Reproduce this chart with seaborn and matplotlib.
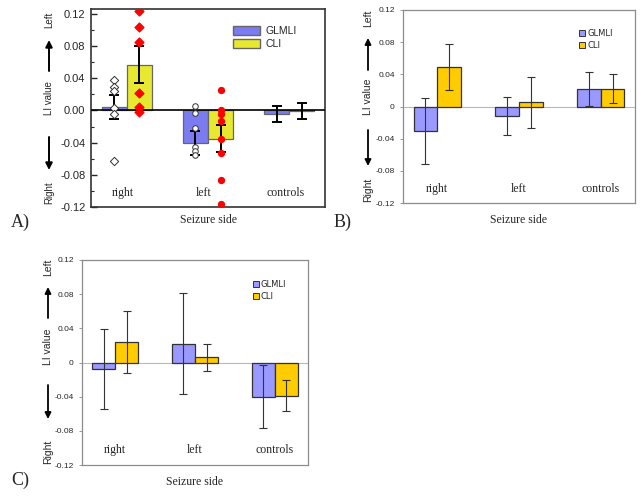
import matplotlib
matplotlib.use("Agg")
import pandas as pd
import matplotlib.pyplot as plt
import seaborn as sns
from matplotlib.patches import Patch
from matplotlib.lines import Line2D

sides = ["right", "left", "controls"]
methods = ["GLMLI", "CLI"]

# panel A: means, errors and individual subjects
a_glmli = [0.004, -0.041, -0.004]
a_glmli_err = [0.015, 0.015, 0.010]
a_cli = [0.057, -0.035, -0.001]
a_cli_err = [0.023, 0.017, 0.010]
a_right_glmli_pts = [0.038, 0.029, 0.024, 0.003, -0.005, -0.063]
a_right_cli_pts = [0.124, 0.104, 0.085, 0.022, 0.004, -0.002]
a_left_glmli_pts = [0.006, -0.003, -0.022, -0.045, -0.050, -0.055]
a_left_cli_pts = [0.025, 0.001, -0.004, -0.013, -0.036, -0.053, -0.087, -0.116]

# panel B
b_glmli = [-0.031, -0.012, 0.022]
b_glmli_err = [0.041, 0.024, 0.021]
b_cli = [0.049, 0.005, 0.022]
b_cli_err = [0.029, 0.032, 0.018]

# panel C
c_glmli = [-0.008, 0.022, -0.040]
c_glmli_err = [0.047, 0.059, 0.037]
c_cli = [0.024, 0.006, -0.039]
c_cli_err = [0.036, 0.016, 0.018]

W, H = 642, 496
sns.set_style("white")
plt.rcParams["font.family"] = ["Liberation Sans", "DejaVu Sans"]
SERIF = "Liberation Serif"

fig = plt.figure(figsize=(W / 100, H / 100), dpi=100)


def box(x0, y0, x1, y1):
    # pixel box -> figure fraction rect
    return [x0 / W, 1 - y1 / H, (x1 - x0) / W, (y1 - y0) / H]


def fx(x):
    return x / W


def fy(y):
    return 1 - y / H


def make_df(glmli, cli):
    return pd.DataFrame({
        "side": sides * 2,
        "method": ["GLMLI"] * 3 + ["CLI"] * 3,
        "value": glmli + cli,
    })


def side_label(ax, x, y_top, y_mid, y_bot, up, down, fs_lr, fs_li, lw, ms):
    fig.text(fx(x), fy(y_top), "Left", rotation=90, ha="center", va="center", fontsize=fs_lr)
    fig.text(fx(x), fy(y_mid), "LI value", rotation=90, ha="center", va="center", fontsize=fs_li)
    fig.text(fx(x), fy(y_bot), "Right", rotation=90, ha="center", va="center", fontsize=fs_lr)
    for (ya, yb) in (up, down):
        ax.annotate("", xy=(fx(x), fy(yb)), xytext=(fx(x), fy(ya)),
                    xycoords="figure fraction", textcoords="figure fraction",
                    arrowprops=dict(arrowstyle="-|>", color="black", lw=lw,
                                    mutation_scale=ms, shrinkA=0, shrinkB=0))


def bars(ax, glmli, glmli_err, cli, cli_err, palette, width, edge, elw, ecol, cap):
    sns.barplot(data=make_df(glmli, cli), x="side", y="value", hue="method",
                order=sides, hue_order=methods, palette=palette, width=width,
                errorbar=None, saturation=1, edgecolor=edge, linewidth=0.9,
                legend=False, ax=ax, zorder=2)
    centers = [[b.get_x() + b.get_width() / 2 for b in cont] for cont in ax.containers]
    for xs, vals, errs in zip(centers, [glmli, cli], [glmli_err, cli_err]):
        ax.errorbar(xs, vals, yerr=errs, fmt="none", ecolor=ecol, elinewidth=elw,
                    capsize=cap, capthick=elw, zorder=4)
    return centers


# ---------------- panel A ----------------
axA = fig.add_axes(box(91, 9, 325, 207))
palA = {"GLMLI": "#7b7bf2", "CLI": "#e8e830"}
xsA = bars(axA, a_glmli, a_glmli_err, a_cli, a_cli_err, palA, 0.62, "#666666", 1.4, "black", 3.5)
axA.axhline(0, color="black", lw=1.2, zorder=3)
axA.scatter([xsA[0][0]] * len(a_right_glmli_pts), a_right_glmli_pts, marker="D", s=18,
            facecolor="white", edgecolor="#333333", linewidth=0.7, zorder=5)
axA.scatter([xsA[1][0]] * len(a_right_cli_pts), a_right_cli_pts, marker="D", s=20,
            color="#ff0000", zorder=5)
axA.scatter([xsA[0][1]] * len(a_left_glmli_pts), a_left_glmli_pts, marker="o", s=16,
            facecolor="white", edgecolor="#333333", linewidth=0.7, zorder=5)
axA.scatter([xsA[1][1]] * len(a_left_cli_pts), a_left_cli_pts, marker="o", s=18,
            color="#ff0000", zorder=5)
axA.set_ylim(-0.12, 0.126)
axA.set_yticks([0.12, 0.08, 0.04, 0.0, -0.04, -0.08, -0.12])
axA.set_yticklabels(["0.12", "0.08", "0.04", "0.00", "-0.04", "-0.08", "-0.12"])
axA.set_yticks([0.10, 0.06, 0.02, -0.02, -0.06, -0.10], minor=True)
axA.tick_params(axis="y", which="major", direction="in", length=4, width=1, labelsize=8, pad=4, left=True)
axA.tick_params(axis="y", which="minor", direction="in", length=2, width=0.8, left=True)
axA.tick_params(axis="x", bottom=False, labelbottom=False)
for sp in axA.spines.values():
    sp.set_color("#333333")
    sp.set_linewidth(1.2)
for i, s in enumerate(sides):
    axA.text(i - 0.05, -0.103, s, ha="center", va="center", family=SERIF, fontsize=8.5)
axA.set_xlabel("Seizure side", family=SERIF, fontsize=8.5, labelpad=5)
axA.set_ylabel("")
axA.legend(handles=[Patch(facecolor=palA[m], edgecolor="#666666") for m in methods],
           labels=methods, loc="upper right", bbox_to_anchor=(0.92, 0.96), frameon=False,
           fontsize=7.5, handlelength=2.6, handleheight=0.9, handletextpad=0.5, labelspacing=0.25)
side_label(axA, 49, 20, 98, 193, (71, 40), (137, 170), 7, 7, 1.4, 10)
fig.text(fx(20), fy(222), "A)", family=SERIF, fontsize=13, ha="center", va="center")


def panel_bc(rect, glmli, glmli_err, cli, cli_err, lab, lab_xy, leg_anchor, arrow_x, ys):
    ax = fig.add_axes(box(*rect))
    pal = {"GLMLI": "#9999ff", "CLI": "#ffcc00"}
    bars(ax, glmli, glmli_err, cli, cli_err, pal, 0.58, "#333333", 0.8, "#333333", 3)
    ax.axhline(0, color="#b8b8b8", lw=0.8, zorder=1)
    ax.set_ylim(-0.12, 0.12)
    ax.set_yticks([0.12, 0.08, 0.04, 0.0, -0.04, -0.08, -0.12])
    ax.set_yticklabels(["0.12", "0.08", "0.04", "0", "-0.04", "-0.08", "-0.12"])
    ax.tick_params(axis="y", direction="out", length=2, width=0.6, color="#888888",
                   labelsize=6, pad=4, left=True)
    ax.tick_params(axis="x", bottom=False, labelbottom=False)
    for sp in ax.spines.values():
        sp.set_color("#8c8c8c")
        sp.set_linewidth(0.9)
    for i, s in enumerate(sides):
        ax.text(i, -0.103, s, ha="center", va="center", family=SERIF, fontsize=8.5)
    ax.set_xlabel("Seizure side", family=SERIF, fontsize=8.5, labelpad=8)
    ax.set_ylabel("")
    ax.legend(handles=[Line2D([], [], marker="s", ls="none", markersize=4.5,
                              markerfacecolor=pal[m], markeredgecolor="#333333",
                              markeredgewidth=0.7) for m in methods],
              labels=methods, loc="upper right", bbox_to_anchor=leg_anchor, frameon=False,
              prop={"family": "DejaVu Sans", "size": 6}, handlelength=0.6,
              handletextpad=0.3, labelspacing=0.35, borderpad=0.2)
    side_label(ax, arrow_x, *ys, 7.5, 7.5, 1.3, 9)
    fig.text(fx(lab_xy[0]), fy(lab_xy[1]), lab, family=SERIF, fontsize=13, ha="center", va="center")


panel_bc((403, 10, 635, 203), b_glmli, b_glmli_err, b_cli, b_cli_err, "B)", (343, 222),
         (0.93, 0.93), 368, (18, 97, 190, (70, 38), (130, 166)))
panel_bc((82, 260, 308, 465), c_glmli, c_glmli_err, c_cli, c_cli_err, "C)", (20, 480),
         (0.93, 0.93), 48, (267, 347, 452, (318, 287), (385, 419)))

fig.savefig("out.png", dpi=100)
